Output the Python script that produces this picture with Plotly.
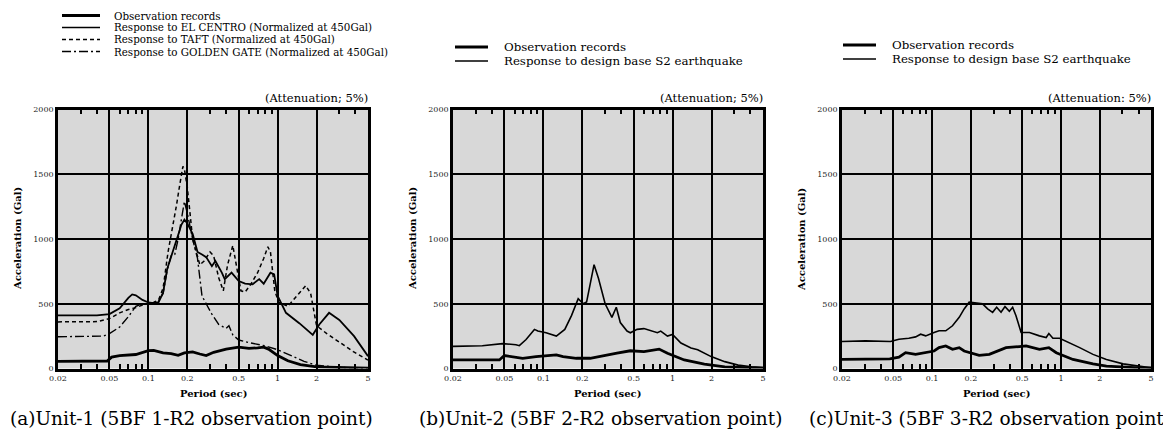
import math
import plotly.graph_objects as go

W, H = 1171, 430

# ---------------- data ----------------
period_ticks = [0.02, 0.05, 0.1, 0.2, 0.5, 1, 2, 5]
period_ticktext = ["0.02", "0.05", "0.1", "0.2", "0.5", "1", "2", "5"]
period_minor = [0.03, 0.04, 0.06, 0.07, 0.08, 0.09, 0.3, 0.4, 0.6, 0.7, 0.8, 0.9, 3, 4]
acc_ticks = [0, 500, 1000, 1500, 2000]

# (a) Unit-1
a_obs_T = [0.02, 0.035, 0.048, 0.052, 0.06, 0.08, 0.1, 0.11, 0.13, 0.15, 0.17, 0.19, 0.22, 0.25,
           0.28, 0.32, 0.4, 0.5, 0.6, 0.7, 0.78, 0.85, 1.0, 1.2, 1.5, 2.0, 3.0, 5.0]
a_obs_V = [55, 55, 58, 88, 100, 108, 138, 140, 120, 115, 102, 120, 128, 112,
           100, 125, 150, 165, 155, 160, 165, 150, 100, 60, 30, 12, 5, 2]

a_elc_T = [0.02, 0.04, 0.05, 0.06, 0.07, 0.075, 0.08, 0.09, 0.1, 0.11, 0.12, 0.13, 0.14, 0.15,
           0.16, 0.17, 0.18, 0.19, 0.2, 0.22, 0.24, 0.26, 0.28, 0.31, 0.33, 0.37, 0.39, 0.44,
           0.5, 0.56, 0.64, 0.72, 0.78, 0.88, 0.94, 1.0, 1.16, 1.47, 1.87, 2.1, 2.5, 3.0, 3.9, 5.0]
a_elc_V = [410, 410, 420, 465, 545, 572, 565, 530, 510, 505, 512, 585, 770, 870,
           950, 1030, 1110, 1150, 1120, 1040, 900, 880, 860, 790, 830, 740, 690, 740,
           675, 655, 650, 690, 655, 740, 727, 560, 430, 350, 260, 340, 430, 375, 250, 95]

a_taft_T = [0.02, 0.04, 0.05, 0.06, 0.07, 0.08, 0.09, 0.1, 0.11, 0.12, 0.13, 0.142, 0.155, 0.165,
            0.175, 0.185, 0.19, 0.2, 0.21, 0.22, 0.235, 0.25, 0.27, 0.3, 0.32, 0.35, 0.38, 0.41,
            0.45, 0.48, 0.52, 0.56, 0.62, 0.7, 0.78, 0.84, 0.88, 0.95, 1.02, 1.2, 1.4, 1.65,
            1.8, 2.0, 2.4, 3.0, 3.85, 5.0]
a_taft_V = [360, 362, 385, 430, 455, 470, 490, 500, 510, 530, 620, 900, 1100, 1260,
            1420, 1560, 1540, 1400, 1200, 1000, 900, 800, 830, 900, 870, 700, 600, 800,
            950, 800, 600, 590, 650, 740, 850, 940, 900, 600, 510, 480, 560, 640,
            580, 330, 270, 205, 130, 65]

a_gg_T = [0.02, 0.045, 0.05, 0.06, 0.07, 0.08, 0.09, 0.1, 0.11, 0.12, 0.13, 0.14, 0.15, 0.16,
          0.17, 0.18, 0.19, 0.2, 0.22, 0.24, 0.26, 0.28, 0.31, 0.35, 0.4, 0.42, 0.45, 0.5,
          0.6, 0.8, 1.0, 1.3, 1.6, 2.0, 3.0, 5.0]
a_gg_V = [245, 250, 270, 320, 400, 480, 500, 505, 510, 520, 580, 760, 870, 880,
          1000, 1150, 1290, 1200, 1000, 850, 560, 500, 420, 340, 310, 330, 260, 220,
          200, 175, 145, 95, 55, 25, 8, 3]

# (b) Unit-2
b_obs_T = [0.02, 0.0457, 0.0499, 0.0578, 0.0692, 0.0878, 0.105, 0.126, 0.142, 0.18, 0.23,
           0.275, 0.371, 0.471, 0.6, 0.786, 0.912, 1.23, 1.76, 2.53, 4.08, 5.0]
b_obs_V = [66, 66, 100, 92, 79, 92, 100, 105, 92, 79, 79,
           92, 118, 137, 131, 150, 118, 66, 34, 13, 3, 2]

b_s2_T = [0.02, 0.0337, 0.0483, 0.0614, 0.0652, 0.0735, 0.0853, 0.0906, 0.105, 0.126, 0.1465,
          0.165, 0.186, 0.2036, 0.216, 0.2296, 0.2467, 0.2667, 0.3005, 0.339, 0.3665, 0.3937,
          0.4438, 0.471, 0.531, 0.5995, 0.676, 0.762, 0.809, 0.912, 0.998, 1.159, 1.387,
          1.563, 1.986, 2.53, 3.21, 4.08, 5.0]
b_s2_V = [171, 176, 192, 184, 176, 224, 302, 289, 276, 250, 302,
          408, 539, 500, 513, 644, 802, 697, 500, 395, 473, 355,
          289, 276, 302, 308, 289, 276, 289, 250, 263, 197, 158,
          145, 92, 53, 26, 13, 8]

# (c) Unit-3
c_obs_T = [0.02, 0.047, 0.0553, 0.0623, 0.0745, 0.0892, 0.1036, 0.1133, 0.1277, 0.144, 0.1624,
           0.1775, 0.232, 0.278, 0.375, 0.476, 0.536, 0.681, 0.806, 0.92, 1.24, 1.774, 2.254,
           4.1, 5.0]
c_obs_V = [70, 75, 88, 122, 109, 122, 135, 161, 174, 148, 161,
           135, 101, 109, 161, 169, 174, 148, 161, 122, 70, 36, 18,
           5, 5]

c_s2_T = [0.02, 0.0304, 0.0476, 0.0553, 0.066, 0.0745, 0.0815, 0.0892, 0.1036, 0.1133, 0.1277,
          0.144, 0.1624, 0.1775, 0.194, 0.219, 0.2466, 0.27, 0.295, 0.317, 0.343, 0.368,
          0.398, 0.422, 0.448, 0.491, 0.57, 0.681, 0.768, 0.806, 0.866, 0.976, 1.167, 1.397,
          1.774, 2.254, 3.04, 4.1, 5.0]
c_s2_V = [208, 213, 208, 226, 234, 244, 265, 252, 278, 291, 291,
          330, 395, 460, 512, 504, 499, 460, 434, 473, 434, 478,
          442, 473, 408, 278, 278, 252, 239, 270, 234, 234, 200, 161,
          109, 70, 36, 18, 5]

panel_captions = ["(a)Unit-1 (5BF 1-R2 observation point)",
                  "(b)Unit-2 (5BF 2-R2 observation point)",
                  "(c)Unit-3 (5BF 3-R2 observation point)"]
attenuation_texts = ["(Attenuation; 5%)", "(Attenuation; 5%)", "(Attenuation: 5%)"]
legend_a = ["Observation records",
            "Response to EL CENTRO (Normalized at 450Gal)",
            "Response to TAFT (Normalized at 450Gal)",
            "Response to GOLDEN GATE (Normalized at 450Gal)"]
legend_bc = ["Observation records", "Response to design base S2 earthquake"]

# ---------------- layout helpers ----------------
SERIF = "DejaVu Serif"
TAFT_DASH = "4px,3px"
GG_DASH = "9px,3px,2px,3px"
PAGE_OFFSET = 8  # the page body margin shifts the figure by 8 px on screen

def px(x):
    return (x - PAGE_OFFSET) / W
def py(y):
    return 1 - (y - PAGE_OFFSET) / H

panels_px = [(58, 368), (453, 763), (842, 1151)]
top_px, bot_px = 109.5, 368.5

fig = go.Figure()

def line(T, V, xa, ya, width, dash="solid"):
    fig.add_trace(go.Scatter(x=T, y=V, xaxis=xa, yaxis=ya, mode="lines",
                             line=dict(color="black", width=width, dash=dash),
                             showlegend=False, hoverinfo="skip"))

# panel a
line(a_gg_T, a_gg_V, "x", "y", 1.4, GG_DASH)
line(a_taft_T, a_taft_V, "x", "y", 1.5, TAFT_DASH)
line(a_elc_T, a_elc_V, "x", "y", 1.8, "solid")
line(a_obs_T, a_obs_V, "x", "y", 2.8, "solid")
# panel b
line(b_s2_T, b_s2_V, "x2", "y2", 1.6, "solid")
line(b_obs_T, b_obs_V, "x2", "y2", 2.8, "solid")
# panel c
line(c_s2_T, c_s2_V, "x3", "y3", 1.6, "solid")
line(c_obs_T, c_obs_V, "x3", "y3", 2.8, "solid")

xcommon = dict(type="log", range=[math.log10(0.02), math.log10(5)],
               tickmode="array", tickvals=period_ticks, ticktext=period_ticktext,
               showgrid=True, gridcolor="black", gridwidth=2,
               showline=True, linecolor="black", linewidth=2.5, mirror="ticks",
               ticks="", zeroline=False, automargin=False,
               minor=dict(tickmode="array", tickvals=period_minor, ticks="inside",
                          ticklen=5, tickwidth=1.5, tickcolor="black", showgrid=False),
               tickfont=dict(family=SERIF, size=8, color="#222"),
               fixedrange=True)
ycommon = dict(range=[0, 2000], tickmode="array", tickvals=acc_ticks,
               showgrid=True, gridcolor="black", gridwidth=2,
               showline=True, linecolor="black", linewidth=2.5, mirror=True,
               ticks="", zeroline=False, automargin=False,
               tickfont=dict(family=SERIF, size=8, color="#222"),
               domain=[py(bot_px), py(top_px)], fixedrange=True)

layout_axes = {}
for i, (l, r) in enumerate(panels_px):
    sfx = "" if i == 0 else str(i + 1)
    layout_axes["xaxis" + sfx] = dict(xcommon, domain=[px(l), px(r)], anchor="y" + sfx)
    layout_axes["yaxis" + sfx] = dict(ycommon, anchor="x" + sfx)

annotations = []
shapes = []

def note(x, y, text, size, xanchor="center", yanchor="middle", angle=0):
    annotations.append(dict(x=px(x), y=py(y), xref="paper", yref="paper",
                            xanchor=xanchor, yanchor=yanchor, textangle=angle,
                            text=text, showarrow=False,
                            font=dict(family=SERIF, size=size, color="black")))

for i, (l, r) in enumerate(panels_px):
    cx = (l + r) / 2
    note(cx, 393, "<b>Period (sec)</b>", 10)
    note(l - 41, (top_px + bot_px) / 2, "<b>Acceleration (Gal)</b>", 10, angle=-90)
    note(r + 2, 98, attenuation_texts[i], 11.5, xanchor="right")

cap_centers = [191, 600, 990]
for c, t in zip(cap_centers, panel_captions):
    note(c, 418, t, 18.5)

# legends (drawn as keys + text)
def key(x0, x1, y, width, dash):
    shapes.append(dict(type="line", xref="paper", yref="paper",
                       x0=px(x0), x1=px(x1), y0=py(y), y1=py(y),
                       line=dict(color="black", width=width, dash=dash)))

a_rows = [15.5, 27.5, 39.5, 51.5]
a_styles = [(2.8, "solid"), (1.6, "solid"), (1.5, TAFT_DASH), (1.4, GG_DASH)]
for yy, (wd, ds), t in zip(a_rows, a_styles, legend_a):
    key(62, 100, yy, wd, ds)
    note(112, yy, t, 10.3, xanchor="left")
for (kx0, kx1, tx, rows) in [(455, 488, 502, [47, 61]), (843, 876, 890, [45, 59])]:
    for yy, wd, t in zip(rows, [2.8, 1.6], legend_bc):
        key(kx0, kx1, yy, wd, "solid")
        note(tx, yy, t, 11.8, xanchor="left")

fig.update_layout(width=W, height=H, margin=dict(l=0, r=0, t=0, b=0, pad=0),
                  paper_bgcolor="white", plot_bgcolor="#d8d8d8",
                  annotations=annotations, shapes=shapes, showlegend=False,
                  **layout_axes)

fig.write_html("out.html")
